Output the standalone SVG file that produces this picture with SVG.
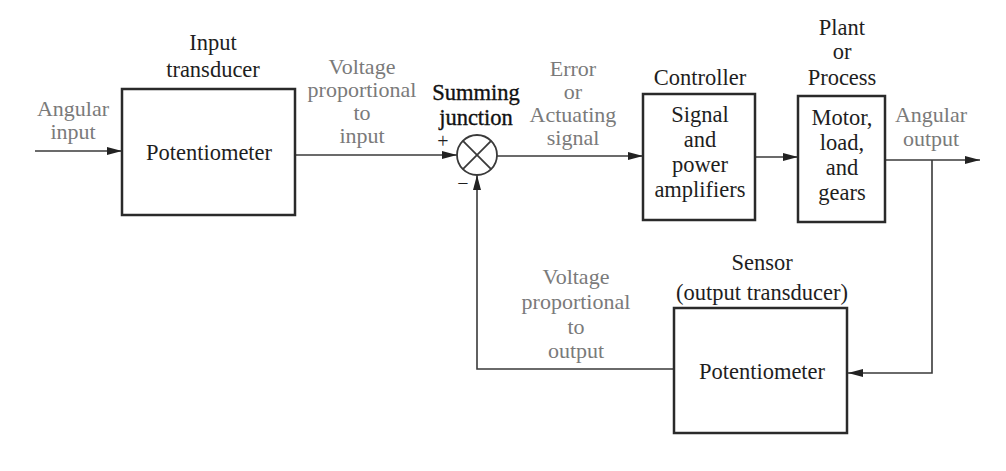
<svg xmlns="http://www.w3.org/2000/svg" width="1006" height="471" viewBox="0 0 1006 471">
<style>
.box{fill:#fff;stroke:#2a2a2a;stroke-width:2.5}
.ln{fill:none;stroke:#3a3a3a;stroke-width:1.6}
.dk{fill:#1e1e1e}
.gr{fill:#7a7a7a}
.sj{fill:#111;stroke:#111;stroke-width:0.35}
</style>
<defs>
<marker id="arr" markerUnits="userSpaceOnUse" markerWidth="16" markerHeight="10" refX="15" refY="5" orient="auto">
<path d="M0,1 L15,5 L0,9 Z" fill="#222"/>
</marker>
</defs>
<rect width="1006" height="471" fill="#fff"/>
<g id="connectors">
<line class="ln" x1="35" y1="151" x2="122" y2="151" marker-end="url(#arr)"/>
<line class="ln" x1="295" y1="155" x2="457" y2="155" marker-end="url(#arr)"/>
<line class="ln" x1="497" y1="156" x2="643" y2="156" marker-end="url(#arr)"/>
<line class="ln" x1="755" y1="157" x2="798" y2="157" marker-end="url(#arr)"/>
<line class="ln" x1="885" y1="160" x2="980" y2="160" marker-end="url(#arr)"/>
<polyline class="ln" points="932,160 932,373 848,373" marker-end="url(#arr)"/>
<polyline class="ln" points="674,369 477,369 477,175" marker-end="url(#arr)"/>
</g>
<g id="input-transducer" text-anchor="middle" font-size="22.5">
<text class="dk" font-family="Liberation Serif" x="213" y="50">Input</text>
<text class="dk" font-family="Liberation Serif" x="213" y="77">transducer</text>
<rect class="box" x="122" y="89" width="173" height="126"/>
<text class="dk" font-family="Liberation Serif" x="209" y="160">Potentiometer</text>
</g>
<g id="summing-junction" text-anchor="middle" font-size="22.5">
<text class="sj" font-family="Liberation Serif" x="476" y="100">Summing</text>
<text class="sj" font-family="Liberation Serif" x="476" y="125">junction</text>
<circle cx="477" cy="155" r="20" fill="#fff" stroke="#3a3a3a" stroke-width="1.8"/>
<line x1="462.9" y1="140.9" x2="491.1" y2="169.1" stroke="#3a3a3a" stroke-width="1.8"/>
<line x1="491.1" y1="140.9" x2="462.9" y2="169.1" stroke="#3a3a3a" stroke-width="1.8"/>
<text class="dk" font-family="Liberation Serif" x="443" y="148" font-size="20">+</text>
<text class="dk" font-family="Liberation Serif" x="463" y="190" font-size="20">−</text>
</g>
<g id="controller" text-anchor="middle" font-size="22.5">
<text class="dk" font-family="Liberation Serif" x="700" y="85">Controller</text>
<rect class="box" x="643" y="94" width="112" height="126"/>
<text class="dk" font-family="Liberation Serif" x="700" y="122">Signal</text>
<text class="dk" font-family="Liberation Serif" x="700" y="147">and</text>
<text class="dk" font-family="Liberation Serif" x="700" y="172">power</text>
<text class="dk" font-family="Liberation Serif" x="700" y="197">amplifiers</text>
</g>
<g id="plant" text-anchor="middle" font-size="22.5">
<text class="dk" font-family="Liberation Serif" x="842" y="35">Plant</text>
<text class="dk" font-family="Liberation Serif" x="842" y="59">or</text>
<text class="dk" font-family="Liberation Serif" x="842" y="85">Process</text>
<rect class="box" x="798" y="96" width="87" height="126"/>
<text class="dk" font-family="Liberation Serif" x="842" y="125">Motor,</text>
<text class="dk" font-family="Liberation Serif" x="842" y="150">load,</text>
<text class="dk" font-family="Liberation Serif" x="842" y="175">and</text>
<text class="dk" font-family="Liberation Serif" x="842" y="200">gears</text>
</g>
<g id="sensor" text-anchor="middle" font-size="22.5">
<text class="dk" font-family="Liberation Serif" x="762" y="270">Sensor</text>
<text class="dk" font-family="Liberation Serif" x="762" y="300">(output transducer)</text>
<rect class="box" x="674" y="308" width="173" height="125"/>
<text class="dk" font-family="Liberation Serif" x="762" y="379">Potentiometer</text>
</g>
<g id="labels" text-anchor="middle" font-size="22">
<text class="gr" font-family="Liberation Serif" x="73" y="116">Angular</text>
<text class="gr" font-family="Liberation Serif" x="73" y="139">input</text>
<text class="gr" font-family="Liberation Serif" x="362" y="74">Voltage</text>
<text class="gr" font-family="Liberation Serif" x="362" y="97">proportional</text>
<text class="gr" font-family="Liberation Serif" x="362" y="120">to</text>
<text class="gr" font-family="Liberation Serif" x="362" y="143">input</text>
<text class="gr" font-family="Liberation Serif" x="573" y="76">Error</text>
<text class="gr" font-family="Liberation Serif" x="573" y="99">or</text>
<text class="gr" font-family="Liberation Serif" x="573" y="122">Actuating</text>
<text class="gr" font-family="Liberation Serif" x="573" y="145">signal</text>
<text class="gr" font-family="Liberation Serif" x="931" y="122">Angular</text>
<text class="gr" font-family="Liberation Serif" x="931" y="146">output</text>
<text class="gr" font-family="Liberation Serif" x="576" y="284">Voltage</text>
<text class="gr" font-family="Liberation Serif" x="576" y="309">proportional</text>
<text class="gr" font-family="Liberation Serif" x="576" y="334">to</text>
<text class="gr" font-family="Liberation Serif" x="576" y="358">output</text>
</g>
</svg>
